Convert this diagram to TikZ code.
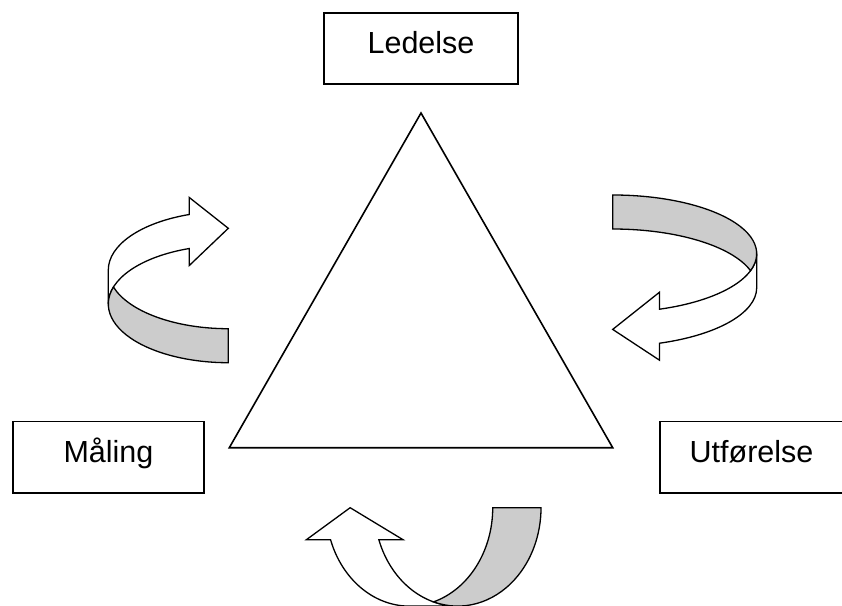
\documentclass[tikz,border=0pt]{standalone}
\usepackage{fontspec}
\setmainfont{Liberation Sans}

% ribbon arrow, flat end of the grey band at (0,0)
\newcommand{\ribbonarrow}{%
	\draw[arrowfront] (-120,-92.7) arc[start angle=180, end angle=251.03, x radius=120, y radius=58.7]
		-- (-39,-165.2) -- (0,-134.4) -- (-39,-97.2) -- (-39,-114.2)
		arc[start angle=251.03, end angle=180, x radius=120, y radius=58.7] -- cycle;
	\draw[arrowback] (0,-34) arc[start angle=90, end angle=163.16, x radius=120, y radius=58.7]
		arc[start angle=196.84, end angle=90, x radius=120, y radius=58.7] -- cycle;
}

\begin{document}
\begin{tikzpicture}[
		x=1pt,
		y=-1pt,
		line width=1.6pt,
		line join=miter,
		arrowfront/.style={draw,fill=white,line width=1.3pt},
		arrowback/.style={draw,fill=gray!40,line width=1.3pt},
		labelbox/.style={draw,inner sep=0pt,minimum height=71.5pt,
			text height=22pt,text depth=12pt,
			font=\fontsize{30.5}{36}\selectfont}
	]
		\useasboundingbox (0,0) rectangle (842,605);

		% Boxes
		\node[labelbox, minimum width=194pt] (ledelse) at (421,48.5) {Ledelse};
		\node[labelbox, minimum width=191pt] (maling) at (108.5,457.3) {Måling};
		\node[labelbox, minimum width=183pt] (utforelse) at (751.5,457.3) {Utførelse};

		% Triangle
		\coordinate (top) at (421,113);
		\coordinate (left) at (229.3,447.7);
		\coordinate (right) at (612.7,447.7);
		\draw (top) -- (left) -- (right) -- cycle;

		% Arrows
		\begin{scope}[shift={(228.3,362.7)}]
			\ribbonarrow
		\end{scope}
		\begin{scope}[shift={(612.7,195)}, xscale=-1.2, yscale=-1]
			\ribbonarrow
		\end{scope}
		\begin{scope}[shift={(541,507.7)}, rotate=90, xscale=0.82, yscale=1.42]
			\ribbonarrow
		\end{scope}
	\end{tikzpicture}
\end{document}
